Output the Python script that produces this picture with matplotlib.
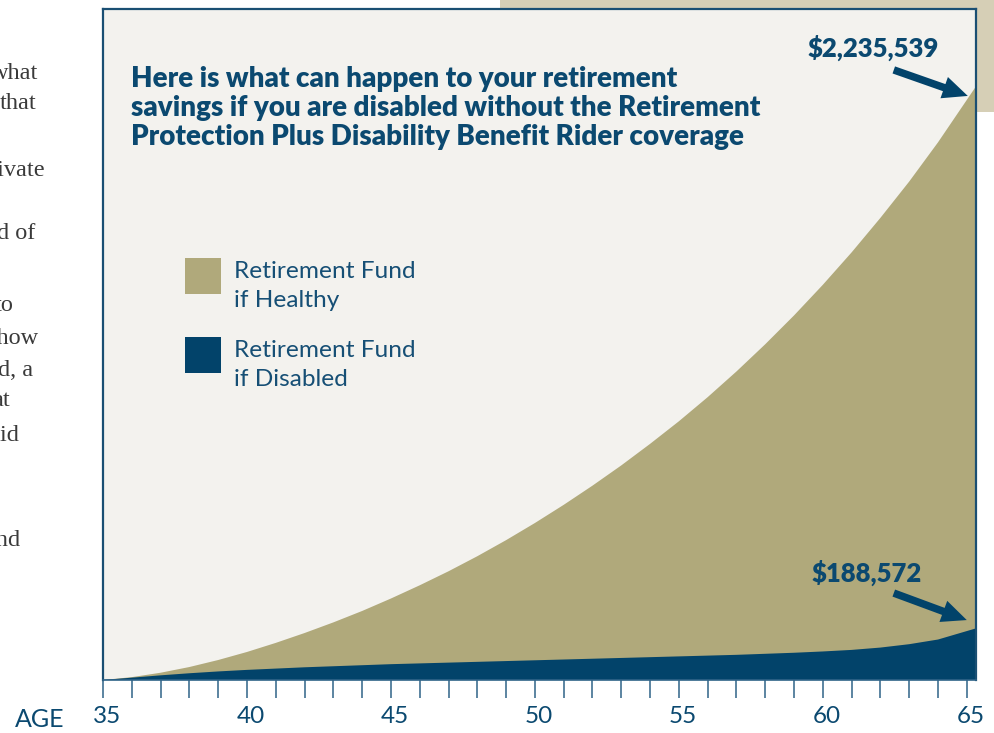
import matplotlib
matplotlib.use("Agg")
import matplotlib.pyplot as plt
import numpy as np
from matplotlib.patches import Rectangle
from matplotlib.transforms import ScaledTranslation

plt.rcParams['font.family'] = ['Lato', 'DejaVu Sans']

# ---------------- data ----------------
ages = list(range(35, 66))
healthy = [0, 11000, 28000, 50000, 77000, 108000, 143000, 181000, 222000, 266000,
           314000, 365000, 419000, 477000, 539000, 605000, 675000, 749000, 827000, 910000,
           997000, 1090000, 1189000, 1294000, 1405000, 1523000, 1648000, 1781000, 1921000, 2072000,
           2235539]
disabled = [0, 9000, 18000, 26000, 33000, 39000, 44000, 49000, 53000, 57000,
            61000, 64000, 67000, 70000, 73000, 76000, 79000, 82000, 85000, 88000,
            91000, 94000, 97000, 101000, 105000, 110000, 116000, 125000, 138000, 156000,
            188572]
tick_label_ages = [35, 40, 45, 50, 55, 60, 65]
legend_labels = ["Retirement Fund\nif Healthy", "Retirement Fund\nif Disabled"]
title_lines = ["Here is what can happen to your retirement",
               "savings if you are disabled without the Retirement",
               "Protection Plus Disability Benefit Rider coverage"]
axis_label = "AGE"
side_words = ["what", "that", "private", "end of", "to", "show", "and, a", "at", "paid", "and"]

# ---------------- layout ----------------
W, H, DPI = 994, 733, 100
fig = plt.figure(figsize=(W / DPI, H / DPI), dpi=DPI, facecolor='white')


def fx(px):
    return px / W


def fy(py):
    return 1 - py / H


CREAM = '#f3f2ee'
TAN = '#b0a97b'
NAVY = '#02436a'
TEXT = '#0b4970'
LTEXT = '#164f75'
SPINE = '#1a4f73'
TICK = '#2f6388'
BOX = '#d6cfb6'

# decorative page box at top right
fig.patches.append(Rectangle((fx(500), fy(112)), (994 - 500) / W, 112 / H,
                             transform=fig.transFigure, facecolor=BOX,
                             edgecolor='none', zorder=-5))

# side text fragments from the neighbouring page column
side_right = [38, 36, 45, 35, 14, 38, 33, 10, 20, 20]
side_base = [79, 109, 176, 239, 311, 344, 376, 406, 441, 546]
for word, xr, yb in zip(side_words, side_right, side_base):
    fig.text(fx(xr), fy(yb), word, ha='right', va='baseline', fontsize=17.5,
             family='Liberation Serif', color='#3a3a3a')

ax = fig.add_axes([fx(103), fy(680), (976 - 103) / W, (680 - 9) / H])
ax.set_zorder(1)
ax.set_facecolor(CREAM)
x_right = 65.32
ax.set_xlim(35, x_right)
ax.set_ylim(0, 2586000)

xs = np.append(ages, x_right)
h_ext = healthy[-1] + (healthy[-1] - healthy[-2]) * (x_right - ages[-1])
d_ext = disabled[-1] + (disabled[-1] - disabled[-2]) * (x_right - ages[-1])
ax.fill_between(xs, 0, np.append(healthy, h_ext), facecolor=TAN, lw=0)
ax.fill_between(xs, 0, np.append(disabled, d_ext), facecolor=NAVY, lw=0)

for s in ['left', 'top', 'right']:
    ax.spines[s].set_color(SPINE)
    ax.spines[s].set_linewidth(1.6)
ax.spines['bottom'].set_color(TICK)
ax.spines['bottom'].set_linewidth(1.2)
ax.set_yticks([])
ax.set_xticks(tick_label_ages)
ax.set_xticks(ages, minor=True)
ax.tick_params(axis='x', which='both', direction='out', length=13, width=1.1, color=TICK)
ax.tick_params(axis='x', which='major', pad=6, labelsize=17.5, labelcolor=TEXT)
for lab in ax.get_xticklabels():
    lab.set_transform(lab.get_transform() + ScaledTranslation(4 / DPI, 0, fig.dpi_scale_trans))

fig.text(fx(40), fy(727), axis_label, ha='center', va='baseline', fontsize=18, color=TEXT)

# title
for i, line in enumerate(title_lines):
    fig.text(fx(131), fy(87 + 29 * i), line, ha='left', va='baseline',
             fontsize=20, fontweight='heavy', color=TEXT)

# legend
sq_tops = [258, 337]
for lab, top, col in zip(legend_labels, sq_tops, [TAN, NAVY]):
    fig.patches.append(Rectangle((fx(185), fy(top + 36)), 36 / W, 36 / H,
                                 transform=fig.transFigure, facecolor=col,
                                 edgecolor='none', zorder=4))
    for j, part in enumerate(lab.split('\n')):
        fig.text(fx(234), fy(top + 20 + 29 * j), part, ha='left', va='baseline',
                 fontsize=17.6, color=LTEXT)

# annotations with arrows
arrow_style = 'simple,head_length=1.0,head_width=0.9,tail_width=0.3'
specs = [
    (healthy[-1], (1, 4), (-73, 30), (-94, 52)),
    (disabled[-1], (0, 11), (-73, 38), (-100, 58)),
]
for val, tip_off, tail_off, txt_off in specs:
    base = ax.transData.transform((ages[-1], val))
    tip = base + np.array(tip_off)
    tail = base + np.array(tail_off)
    ax.annotate('', xy=tip, xycoords='figure pixels', xytext=tail,
                textcoords='figure pixels',
                arrowprops=dict(arrowstyle=arrow_style, mutation_scale=18,
                                fc=NAVY, ec='none', shrinkA=0, shrinkB=0))
    tp = base + np.array(txt_off)
    ax.annotate(f"${val:,}", xy=tp, xycoords='figure pixels', ha='center',
                va='center', fontsize=18.5, fontweight='heavy', color=TEXT)

fig.savefig('out.png', dpi=DPI, facecolor='white')
